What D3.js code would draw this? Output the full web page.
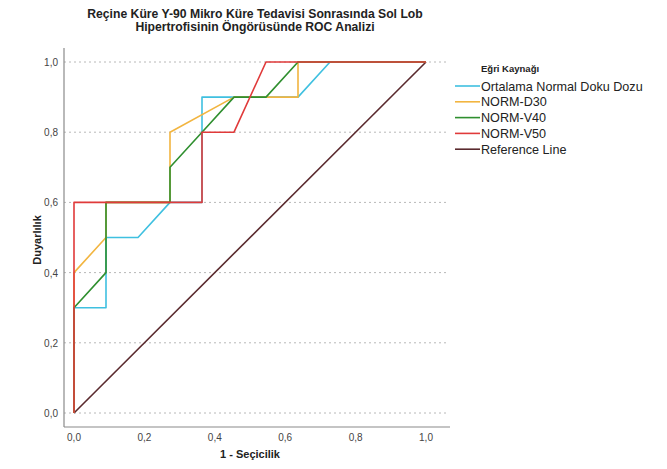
<!DOCTYPE html>
<html><head><meta charset="utf-8">
<script src="https://cdn.jsdelivr.net/npm/d3@7"></script>
<style>body{margin:0;background:#fff;}svg{display:block;font-family:"Liberation Sans",Arial,sans-serif;}</style>
</head><body>
<svg id="c" width="667" height="469"></svg>
<script>
const titleLines = ["Reçine Küre Y-90 Mikro Küre Tedavisi Sonrasında Sol Lob", "Hipertrofisinin Öngörüsünde ROC Analizi"];
const xLabel = "1 - Seçicilik";
const yLabel = "Duyarlılık";
const legendTitle = "Eğri Kaynağı";
const tickValues = [0, 0.2, 0.4, 0.6, 0.8, 1.0];
const n = 1/11;
const seriesNames = ["Ortalama Normal Doku Dozu", "NORM-D30", "NORM-V40", "NORM-V50", "Reference Line"];
const seriesColors = ["#3fc0e0", "#f2b540", "#2f8f2f", "#e03a3a", "#5a2a2e"];
const ortalamaFPR = [0, 0, n, n, 2*n, 3*n, 4*n, 4*n, 7*n, 8*n, 1];
const ortalamaTPR = [0, 0.3, 0.3, 0.5, 0.5, 0.6, 0.6, 0.9, 0.9, 1.0, 1.0];
const d30FPR = [0, 0, n, n, 3*n, 3*n, 5*n, 7*n, 7*n, 1];
const d30TPR = [0, 0.4, 0.5, 0.6, 0.6, 0.8, 0.9, 0.9, 1.0, 1.0];
const v40FPR = [0, 0, n, n, 3*n, 3*n, 4*n, 5*n, 6*n, 7*n, 1];
const v40TPR = [0, 0.3, 0.4, 0.6, 0.6, 0.7, 0.8, 0.9, 0.9, 1.0, 1.0];
const v50FPR = [0, 0, 4*n, 4*n, 5*n, 6*n, 1];
const v50TPR = [0, 0.6, 0.6, 0.8, 0.8, 1.0, 1.0];
const refFPR = [0, 1];
const refTPR = [0, 1];

const allFPR = [ortalamaFPR, d30FPR, v40FPR, v50FPR, refFPR];
const allTPR = [ortalamaTPR, d30TPR, v40TPR, v50TPR, refTPR];

const svg = d3.select("#c");
const x = d3.scaleLinear().domain([0,1]).range([74, 426]);
const y = d3.scaleLinear().domain([0,1]).range([413, 62]);
const fmt = d => d3.format(".1f")(d).replace(".", ",");

// title
svg.append("g").selectAll("text").data(titleLines).join("text")
  .attr("x", 255).attr("y", (d,i)=>18 + i*12.5)
  .attr("text-anchor","middle").attr("font-size","12.2px").attr("font-weight","bold").attr("fill","#222")
  .text(d=>d);

// gridlines
svg.append("g").selectAll("line").data(tickValues).join("line")
  .attr("x1", 64).attr("x2", 448).attr("y1", d=>y(d)).attr("y2", d=>y(d))
  .attr("stroke","#b8b8b8").attr("stroke-width",1).attr("stroke-dasharray","2,3");

// axes lines
svg.append("line").attr("x1",64).attr("x2",64).attr("y1",48).attr("y2",427).attr("stroke","#8a8a8a").attr("stroke-width",1.2);
svg.append("line").attr("x1",64).attr("x2",450).attr("y1",427).attr("y2",427).attr("stroke","#8a8a8a").attr("stroke-width",1.2);

// y tick labels
svg.append("g").selectAll("text").data(tickValues).join("text")
  .attr("x", 58).attr("y", d=>y(d)+4).attr("text-anchor","end")
  .attr("font-size","10px").attr("fill","#444").text(fmt);
// x tick labels
svg.append("g").selectAll("text").data(tickValues).join("text")
  .attr("x", d=>x(d)).attr("y", 441).attr("text-anchor","middle")
  .attr("font-size","10px").attr("fill","#444").text(fmt);

// axis titles
svg.append("text").attr("x", x(0.5)).attr("y", 458).attr("text-anchor","middle")
  .attr("font-size","11px").attr("font-weight","bold").attr("fill","#222").text(xLabel);
svg.append("text").attr("transform","translate(41,240) rotate(-90)").attr("text-anchor","middle")
  .attr("font-size","11px").attr("font-weight","bold").attr("fill","#222").text(yLabel);

// curves
const line = d3.line().x(d=>x(d[0])).y(d=>y(d[1]));
const drawOrder = [4, 0, 1, 2, 3];
svg.append("g").selectAll("path").data(drawOrder).join("path")
  .attr("d", i => line(allFPR[i].map((v,j)=>[v, allTPR[i][j]])))
  .attr("fill","none").attr("stroke", i=>seriesColors[i]).attr("stroke-width",1.6)
  .attr("stroke-linejoin","round");

// legend
svg.append("text").attr("x", 481).attr("y", 72).attr("font-size","9.5px").attr("font-weight","bold").attr("fill","#222").text(legendTitle);
const lg = svg.append("g").selectAll("g").data(seriesNames).join("g")
  .attr("transform",(d,i)=>`translate(0,${86 + i*15.8})`);
lg.append("line").attr("x1",455).attr("x2",480).attr("y1",0).attr("y2",0)
  .attr("stroke",(d,i)=>seriesColors[i]).attr("stroke-width",1.6);
lg.append("text").attr("x",481).attr("y",4.5).attr("font-size","12.6px").attr("fill","#222").text(d=>d);
</script>
</body></html>
